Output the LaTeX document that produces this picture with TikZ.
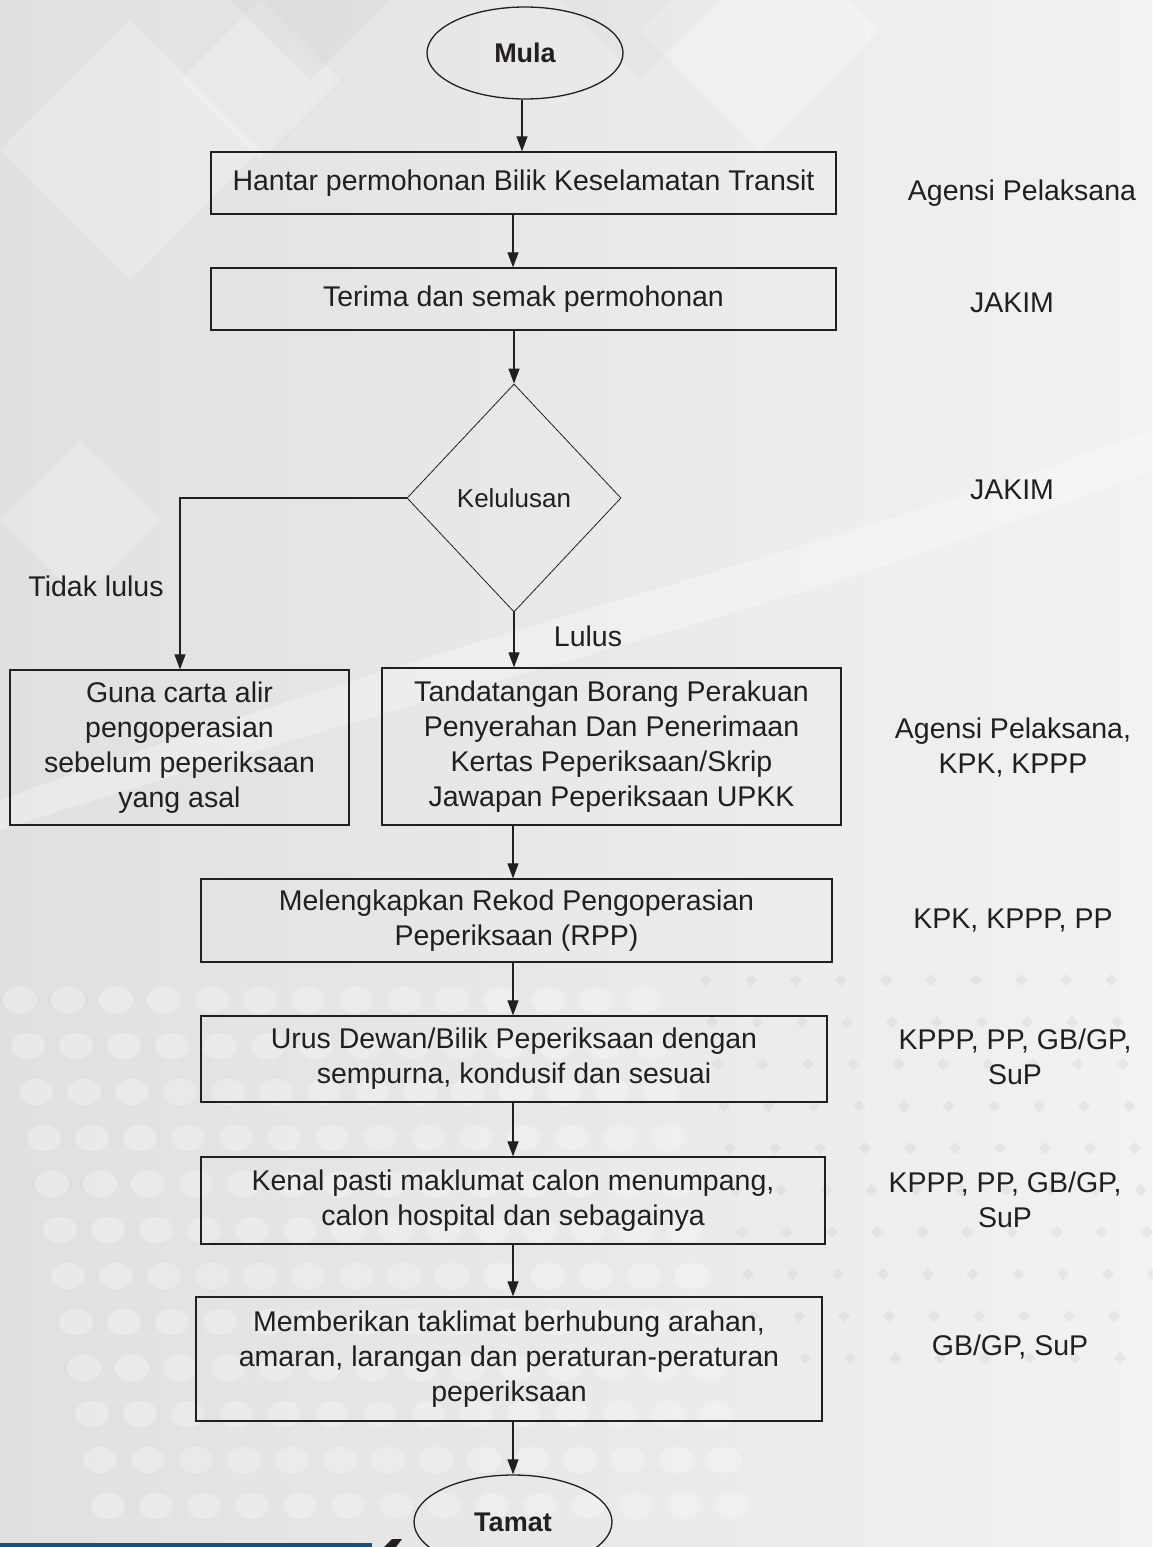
\documentclass[tikz,border=0pt]{standalone}
\usepackage{fontspec}
\setmainfont{Liberation Sans}
\usetikzlibrary{shapes.geometric,arrows.meta,calc}
\definecolor{ink}{HTML}{231F20}
\definecolor{bgL}{HTML}{E0E0E1}
\definecolor{bgR}{HTML}{F2F2F3}
\definecolor{barblue}{HTML}{1B4E79}
\begin{document}
\begin{tikzpicture}[x=1pt,y=-1pt,
  box/.style={draw=ink,line width=1.3pt,rectangle,inner sep=0pt,align=center,text=ink,font=\fontsize{28.5}{35}\selectfont},
  term/.style={draw=ink,line width=1.3pt,ellipse,inner sep=0pt,text=ink,font=\bfseries\fontsize{27}{32}\selectfont},
  decision/.style={draw=ink,line width=0.8pt,diamond,inner sep=0pt,text=ink,font=\fontsize{26}{31}\selectfont},
  lbl/.style={align=center,text=ink,inner sep=0pt,font=\fontsize{28.5}{35}\selectfont},
  arr/.style={draw=ink,line width=1.2pt,-{Triangle[length=15pt,width=11pt]}},
]
% background
\useasboundingbox (0,0) rectangle (1152,1547);
\shade[left color=bgL,right color=bgR] (0,0) rectangle (1152,1547);
\begin{scope}[opacity=0.25]
  \fill[white] (0,150) -- (130,20) -- (260,150) -- (130,280) -- cycle;
  \fill[white] (180,80) -- (260,0) -- (340,80) -- (260,160) -- cycle;
  \fill[gray!40] (230,0) -- (310,80) -- (390,0) -- cycle;
  \fill[white] (0,520) -- (80,440) -- (160,520) -- (80,600) -- cycle;
  \fill[white] (640,30) -- (760,150) -- (880,30) -- (760,-90) -- cycle;
  \fill[gray!30] (560,0) -- (640,80) -- (720,0) -- cycle;
\end{scope}
\begin{scope}[opacity=0.3]
  \fill[white] (0,800) .. controls (500,620) and (800,560) .. (1152,430) -- (1152,470) .. controls (800,610) and (500,670) .. (0,830) -- cycle;
\end{scope}
\foreach \i in {0,...,13}{
  \foreach \j in {0,...,11}{
    \fill[white,opacity=0.28] (20+\i*48+\j*8, 1000+\j*46) ellipse (17pt and 13pt);
  }
}
\foreach \i in {0,...,9}{
  \foreach \j in {0,...,9}{
    \fill[gray!45,opacity=0.25] (700+\i*45+\j*6, 980+\j*42) -- ++(6,-6) -- ++(6,6) -- ++(-6,6) -- cycle;
  }
}
\fill[barblue] (0,1543) rectangle (372,1547);
\fill[ink] (384,1547) -- (392,1539) -- (402,1539) -- (396,1547) -- cycle;

% nodes
\node[term] (mula) at (525,53) [minimum width=196pt,minimum height=92pt] {Mula};
\node[box,minimum width=625pt,minimum height=62pt] (b1) at (523.5,183) {Hantar permohonan Bilik Keselamatan Transit};
\node[box,minimum width=625pt,minimum height=62pt] (b2) at (523.5,299) {Terima dan semak permohonan};
\node[decision,minimum width=214pt,minimum height=228pt] (dec) at (514,498) {Kelulusan};
\node[box,minimum width=339pt,minimum height=155pt] (lb) at (179.5,747.5) {Guna carta alir\\pengoperasian\\sebelum peperiksaan\\yang asal};
\node[box,minimum width=459pt,minimum height=157pt] (mb) at (611.5,746.5) {Tandatangan Borang Perakuan\\Penyerahan Dan Penerimaan\\Kertas Peperiksaan/Skrip\\Jawapan Peperiksaan UPKK};
\node[box,minimum width=631pt,minimum height=83pt] (b3) at (516.5,920.5) {Melengkapkan Rekod Pengoperasian\\Peperiksaan (RPP)};
\node[box,minimum width=626pt,minimum height=86pt] (b4) at (514,1059) {Urus Dewan/Bilik Peperiksaan dengan\\sempurna, kondusif dan sesuai};
\node[box,minimum width=624pt,minimum height=87pt] (b5) at (513,1200.5) {Kenal pasti maklumat calon menumpang,\\calon hospital dan sebagainya};
\node[box,minimum width=626pt,minimum height=124pt] (b6) at (509,1359) {Memberikan taklimat berhubung arahan,\\amaran, larangan dan peraturan-peraturan\\peperiksaan};
\node[term,minimum width=198pt,minimum height=94pt] (tamat) at (513,1522) {Tamat};

% role labels
\node[lbl] (r1) at (1022,193) {Agensi Pelaksana};
\node[lbl] (r2) at (1012,303) {JAKIM};
\node[lbl] (r3) at (1012,490) {JAKIM};
\node[lbl] (r4) at (1013,747) {Agensi Pelaksana,\\KPK, KPPP};
\node[lbl] (r5) at (1013,921) {KPK, KPPP, PP};
\node[lbl] (r6) at (1015,1057) {KPPP, PP, GB/GP,\\SuP};
\node[lbl] (r7) at (1005,1200) {KPPP, PP, GB/GP,\\SuP};
\node[lbl] (r8) at (1010,1347) {GB/GP, SuP};

% connectors
\coordinate (colA) at (522,0);
\coordinate (colB) at (513,0);
\coordinate (turn) at (180,498);
\draw[arr] (mula.south -| colA) -- (b1.north -| colA);
\draw[arr] (b1.south -| colB) -- (b2.north -| colB);
\draw[arr] (b2.south -| dec.north) -- (dec.north);
\draw[arr] (dec.south) -- (mb.north -| dec.south);
\draw[arr] (dec.west) -- (turn) -- (lb.north -| turn);
\draw[arr] (mb.south -| colB) -- (b3.north -| colB);
\draw[arr] (b3.south -| colB) -- (b4.north -| colB);
\draw[arr] (b4.south -| colB) -- (b5.north -| colB);
\draw[arr] (b5.south -| colB) -- (b6.north -| colB);
\draw[arr] (b6.south -| colB) -- (tamat.north -| colB);

% branch labels
\node[lbl] (tl) at (96,586) {Tidak lulus};
\node[lbl] (ll) at (588,636) {Lulus};
\end{tikzpicture}
\end{document}
